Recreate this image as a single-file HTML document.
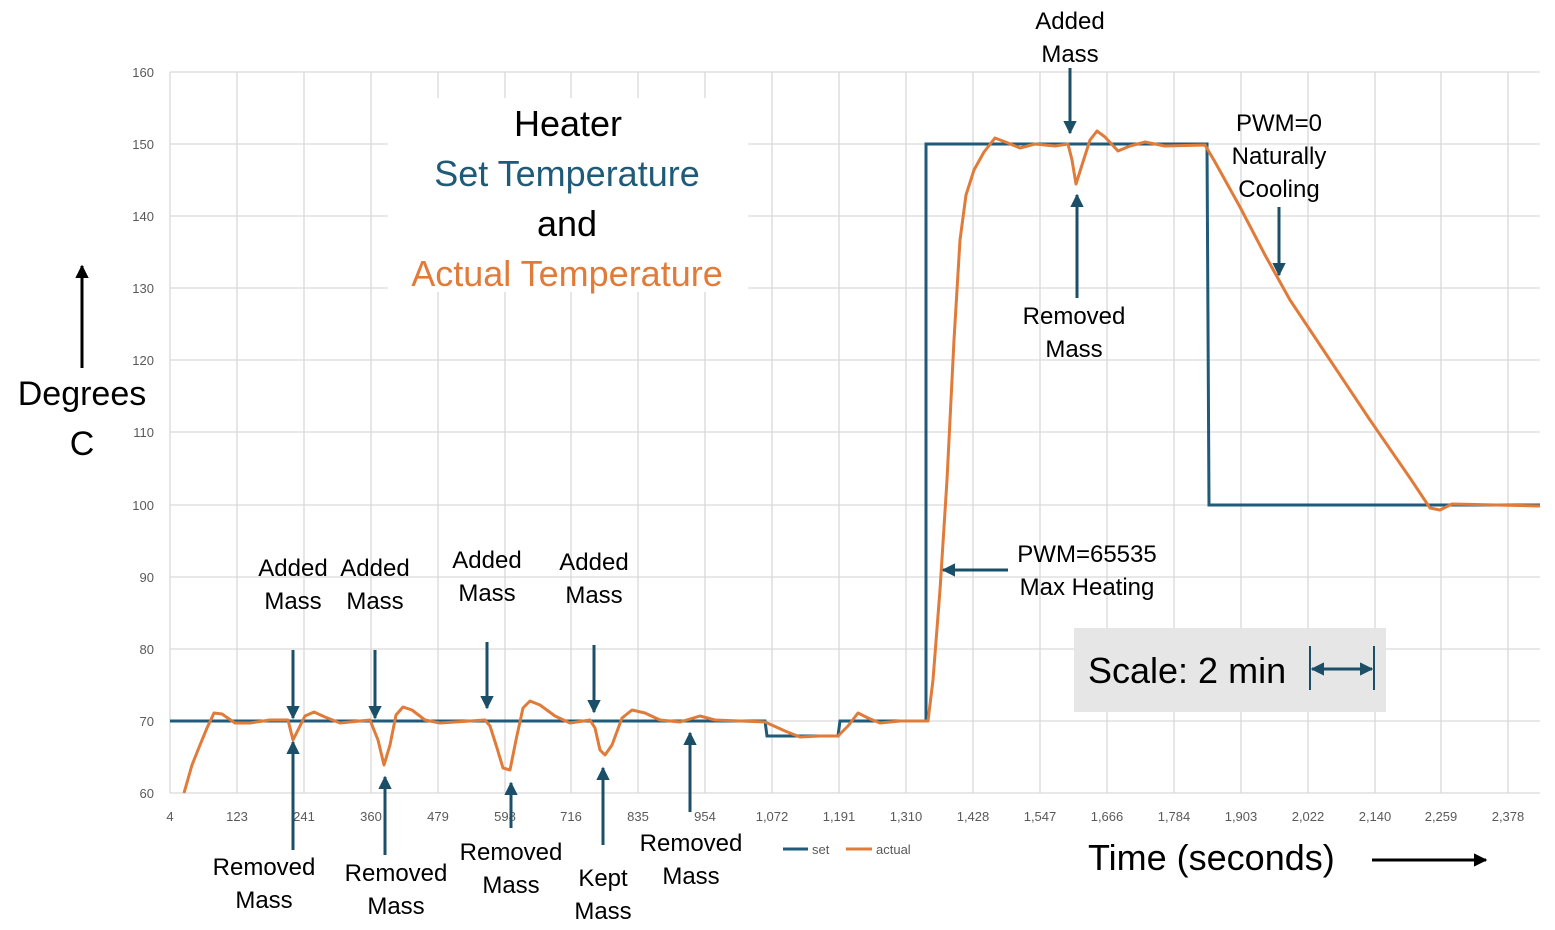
<!DOCTYPE html>
<html><head><meta charset="utf-8"><style>
html,body{margin:0;padding:0;background:#fff}
svg{display:block}
.t{font-family:"Liberation Sans",sans-serif;fill:#000}
.tk{font-family:"Liberation Sans Narrow","Liberation Sans",sans-serif;fill:#595959;font-size:13px}
</style></head><body>
<svg width="1555" height="930" viewBox="0 0 1555 930" xmlns="http://www.w3.org/2000/svg">
<defs>
<marker id="ah" viewBox="0 0 10 10" refX="9" refY="5" markerWidth="4.5" markerHeight="4.5" orient="auto-start-reverse"><path d="M0,0L10,5L0,10z" fill="#1b4f68"/></marker>
<marker id="ak" viewBox="0 0 10 10" refX="9" refY="5" markerWidth="4.5" markerHeight="4.5" orient="auto-start-reverse"><path d="M0,0L10,5L0,10z" fill="#000"/></marker>
</defs>
<g stroke="#d9d9d9" stroke-width="1.3">
<line x1="170" y1="72" x2="1540" y2="72"/><line x1="170" y1="144" x2="1540" y2="144"/><line x1="170" y1="216" x2="1540" y2="216"/><line x1="170" y1="288" x2="1540" y2="288"/><line x1="170" y1="360" x2="1540" y2="360"/><line x1="170" y1="432" x2="1540" y2="432"/><line x1="170" y1="505" x2="1540" y2="505"/><line x1="170" y1="577" x2="1540" y2="577"/><line x1="170" y1="649" x2="1540" y2="649"/><line x1="170" y1="721" x2="1540" y2="721"/><line x1="170" y1="793" x2="1540" y2="793"/>
<line x1="170" y1="72" x2="170" y2="793"/><line x1="237" y1="72" x2="237" y2="793"/><line x1="304" y1="72" x2="304" y2="793"/><line x1="371" y1="72" x2="371" y2="793"/><line x1="438" y1="72" x2="438" y2="793"/><line x1="505" y1="72" x2="505" y2="793"/><line x1="571" y1="72" x2="571" y2="793"/><line x1="638" y1="72" x2="638" y2="793"/><line x1="705" y1="72" x2="705" y2="793"/><line x1="772" y1="72" x2="772" y2="793"/><line x1="839" y1="72" x2="839" y2="793"/><line x1="906" y1="72" x2="906" y2="793"/><line x1="973" y1="72" x2="973" y2="793"/><line x1="1040" y1="72" x2="1040" y2="793"/><line x1="1107" y1="72" x2="1107" y2="793"/><line x1="1174" y1="72" x2="1174" y2="793"/><line x1="1241" y1="72" x2="1241" y2="793"/><line x1="1308" y1="72" x2="1308" y2="793"/><line x1="1375" y1="72" x2="1375" y2="793"/><line x1="1441" y1="72" x2="1441" y2="793"/><line x1="1508" y1="72" x2="1508" y2="793"/>
</g>
<g class="tk" text-anchor="end">
<text x="154" y="77">160</text><text x="154" y="149">150</text><text x="154" y="221">140</text><text x="154" y="293">130</text><text x="154" y="365">120</text><text x="154" y="437">110</text><text x="154" y="510">100</text><text x="154" y="582">90</text><text x="154" y="654">80</text><text x="154" y="726">70</text><text x="154" y="798">60</text>
</g>
<g class="tk" text-anchor="middle">
<text x="170" y="821">4</text><text x="237" y="821">123</text><text x="304" y="821">241</text><text x="371" y="821">360</text><text x="438" y="821">479</text><text x="505" y="821">598</text><text x="571" y="821">716</text><text x="638" y="821">835</text><text x="705" y="821">954</text><text x="772" y="821">1,072</text><text x="839" y="821">1,191</text><text x="906" y="821">1,310</text><text x="973" y="821">1,428</text><text x="1040" y="821">1,547</text><text x="1107" y="821">1,666</text><text x="1174" y="821">1,784</text><text x="1241" y="821">1,903</text><text x="1308" y="821">2,022</text><text x="1375" y="821">2,140</text><text x="1441" y="821">2,259</text><text x="1508" y="821">2,378</text>
</g>
<!-- title box -->
<rect x="388" y="98" width="360" height="194" fill="#fff"/>
<rect x="1074" y="628" width="312" height="84" fill="#e6e6e6"/>
<!-- set -->
<polyline fill="none" stroke="#1f5a78" stroke-width="3" points="170,721 765,721 767,736 838,736 840,721 926,721 926,144 1207,144 1209,505 1540,505"/>
<!-- actual -->
<polyline fill="none" stroke="#e07b39" stroke-width="3" stroke-linejoin="round" points="184,793 192,765 200,745 207,728 214,713 222,714 235,723 250,723 270,720 288,720 293,740 298,730 305,716 314,712 325,717 340,723 370,720 378,740 384,765 390,745 396,715 403,707 412,710 425,720 440,723 485,720 490,726 497,748 503,768 510,770 516,740 523,708 530,701 540,705 555,716 570,723 590,720 595,728 600,750 605,755 612,745 622,718 632,710 645,713 660,720 680,722 700,716 715,720 740,721 765,722 785,731 800,737 820,736 838,736 848,726 858,713 868,718 880,723 900,721 928,721 933,680 940,590 947,480 954,340 960,240 966,195 974,170 984,152 995,138 1008,143 1020,148 1035,144 1055,146 1068,144 1072,160 1076,184 1082,165 1090,140 1097,131 1105,137 1118,151 1130,146 1145,142 1165,146 1205,145 1215,162 1240,207 1265,255 1290,300 1330,360 1370,420 1410,478 1430,508 1440,510 1452,504 1540,506"/>
<!-- legend -->
<line x1="783" y1="849" x2="808" y2="849" stroke="#1f5a78" stroke-width="3"/>
<text class="tk" x="812" y="854">set</text>
<line x1="846" y1="849" x2="872" y2="849" stroke="#e07b39" stroke-width="3"/>
<text class="tk" x="876" y="854">actual</text>
<!-- arrows -->
<g stroke="#1b4f68" stroke-width="3" marker-end="url(#ah)">
<line x1="293" y1="650" x2="293" y2="718"/>
<line x1="375" y1="650" x2="375" y2="718"/>
<line x1="487" y1="642" x2="487" y2="708"/>
<line x1="594" y1="645" x2="594" y2="712"/>
<line x1="1070" y1="68" x2="1070" y2="133"/>
<line x1="293" y1="850" x2="293" y2="742"/>
<line x1="385" y1="855" x2="385" y2="777"/>
<line x1="511" y1="828" x2="511" y2="783"/>
<line x1="603" y1="845" x2="603" y2="768"/>
<line x1="690" y1="812" x2="690" y2="733"/>
<line x1="1077" y1="298" x2="1077" y2="195"/>
<line x1="1279" y1="207" x2="1279" y2="275"/>
<line x1="1008" y1="570" x2="943" y2="570"/>
</g>
<line x1="1312" y1="669" x2="1372" y2="669" stroke="#1b4f68" stroke-width="3" marker-start="url(#ah)" marker-end="url(#ah)"/>
<line x1="1310" y1="646" x2="1310" y2="690" stroke="#1b4f68" stroke-width="2"/>
<line x1="1374" y1="646" x2="1374" y2="690" stroke="#1b4f68" stroke-width="2"/>
<line x1="82" y1="368" x2="82" y2="266" stroke="#000" stroke-width="3" marker-end="url(#ak)"/>
<line x1="1372" y1="860" x2="1486" y2="860" stroke="#000" stroke-width="3" marker-end="url(#ak)"/>
<!-- texts -->
<g class="t" font-size="24" text-anchor="middle">
<text x="293" y="576">Added</text><text x="293" y="609">Mass</text>
<text x="375" y="576">Added</text><text x="375" y="609">Mass</text>
<text x="487" y="568">Added</text><text x="487" y="601">Mass</text>
<text x="594" y="570">Added</text><text x="594" y="603">Mass</text>
<text x="1070" y="29">Added</text><text x="1070" y="62">Mass</text>
<text x="264" y="875">Removed</text><text x="264" y="908">Mass</text>
<text x="396" y="881">Removed</text><text x="396" y="914">Mass</text>
<text x="511" y="860">Removed</text><text x="511" y="893">Mass</text>
<text x="603" y="886">Kept</text><text x="603" y="919">Mass</text>
<text x="691" y="851">Removed</text><text x="691" y="884">Mass</text>
<text x="1074" y="324">Removed</text><text x="1074" y="357">Mass</text>
<text x="1279" y="131">PWM=0</text><text x="1279" y="164">Naturally</text><text x="1279" y="197">Cooling</text>
<text x="1087" y="562">PWM=65535</text><text x="1087" y="595">Max Heating</text>
</g>
<g class="t" text-anchor="middle" font-size="36">
<text x="568" y="136">Heater</text>
<text x="567" y="186" style="fill:#1f5a78">Set Temperature</text>
<text x="567" y="236">and</text>
<text x="567" y="286" style="fill:#e07b39">Actual Temperature</text>
<text x="82" y="405" font-size="34">Degrees</text>
<text x="82" y="455" font-size="34">C</text>
</g>
<text class="t" x="1088" y="683" font-size="36">Scale: 2 min</text>
<text class="t" x="1088" y="870" font-size="36">Time (seconds)</text>
</svg>
</body></html>
